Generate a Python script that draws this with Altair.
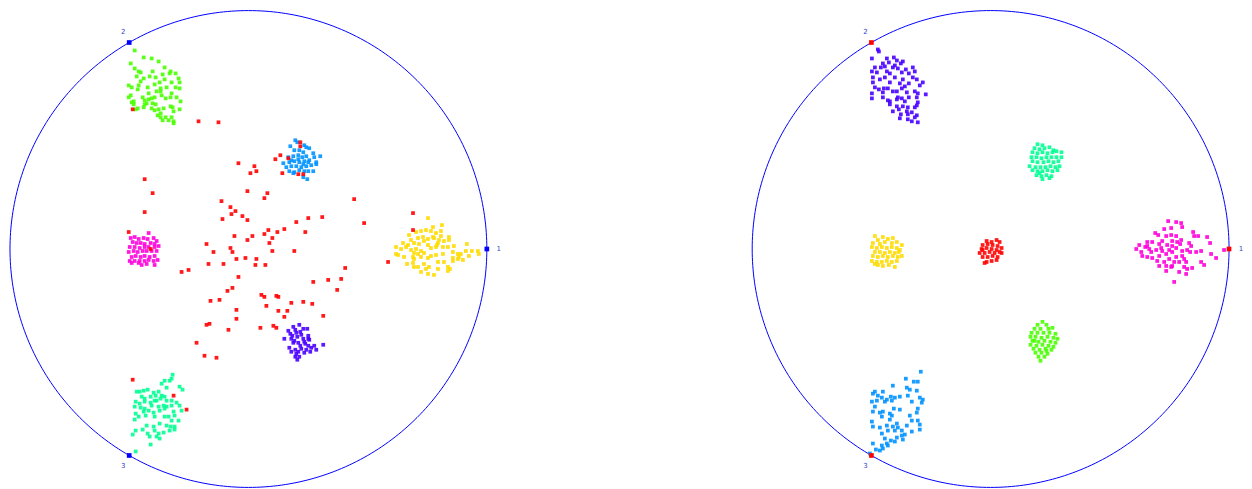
import altair as alt
import numpy as np
import pandas as pd

# RadViz coordinates, expressed in units of 1/239 of the unit-circle radius
R = 239.0

# ---------------- left panel ----------------
L_GREEN = [(-114,199),(-105,192),(-97,191),(-90,188),(-118,186),(-114,181),(-110,178),(-108,177),
(-84,182),(-78,178),(-79,176),(-112,173),(-105,171),(-99,173),(-93,172),(-86,175),(-73,176),(-70,171),
(-69,167),(-77,167),(-120,164),(-117,162),(-110,164),(-111,160),(-101,162),(-94,165),(-89,167),(-82,162),
(-73,162),(-88,161),(-88,158),(-87,154),(-77,156),(-69,161),(-120,152),(-118,154),(-106,152),(-104,149),
(-100,150),(-97,151),(-94,152),(-83,151),(-78,152),(-72,152),(-68,148),(-115,148),(-115,145),(-104,145),
(-102,146),(-96,146),(-93,145),(-111,141),(-105,142),(-97,141),(-90,140),(-85,141),(-78,143),(-76,142),
(-69,140),(-75,138),(-88,136),(-94,139),(-91,134),(-88,132),(-83,132),(-77,132),(-86,129),(-80,129),
(-75,128),(-75,126),(-113,140),(-117,147),(-100,156),(-92,158),(-84,170),(-96,178),(-108,168)]

L_BLUE = [(47,109),(49,107),(42,103),(56,104),(58,102),(61,101),(51,99),(46,99),(55,97),(65,96),(72,93),
(40,92),(45,93),(50,94),(54,92),(58,93),(66,92),(35,86),(41,87),(46,88),(51,87),(56,88),(61,89),(68,87),
(38,82),(43,83),(48,83),(53,82),(58,83),(63,84),(68,85),(41,78),(46,77),(51,79),(56,78),(60,78),(65,78),
(45,76),(55,72),(59,70),(50,90),(43,89),(60,87),(55,85)]

L_PINK = [(-100,16),(-118,11),(-114,12),(-110,10),(-105,11),(-101,10),(-95,11),(-92,8),(-116,7),(-112,6),
(-108,6),(-104,5),(-98,6),(-94,5),(-90,3),(-119,2),(-114,2),(-109,1),(-104,2),(-100,2),(-94,2),(-120,-3),
(-115,-2),(-111,-3),(-106,-2),(-102,-2),(-97,-2),(-92,-2),(-117,-8),(-113,-7),(-108,-8),(-104,-7),(-99,-8),
(-94,-7),(-119,-12),(-114,-12),(-109,-12),(-104,-12),(-100,-11),(-95,-12),(-91,-11),(-107,-16),(-102,-15),
(-94,-16),(-110,-14),(-117,-14)]

L_YELLOW = [(180,31),(194,24),(185,22),(193,18),(161,14),(168,17),(173,18),(178,19),(183,18),(188,16),
(193,13),(201,12),(201,9),(163,9),(170,11),(175,12),(180,10),(186,11),(191,9),(196,8),(155,6),(160,4),
(166,6),(171,5),(180,4),(190,6),(195,2),(200,2),(206,3),(219,5),(148,2),(153,0),(158,2),(163,-1),(168,0),
(173,-2),(183,1),(188,2),(205,-3),(210,-5),(218,-2),(224,-2),(230,-2),(231,-5),(150,-6),(156,-8),(165,-8),
(170,-5),(176,-4),(183,-7),(188,-6),(195,-5),(205,-9),(211,-8),(221,-7),(148,-5),(166,-10),(173,-8),
(180,-9),(159,-15),(165,-14),(176,-15),(190,-13),(196,-13),(205,-12),(210,-10),(215,-11),(166,-18),
(170,-18),(178,-20),(181,-18),(190,-20),(200,-18),(200,-22),(202,-20),(173,-23),(180,-25),(186,-26),
(213,-5),(189,4),(176,8),(185,12),(166,-4)]

L_TEAL = [(-76,-126),(-77,-130),(-84,-132),(-79,-132),(-87,-135),(-82,-139),(-69,-138),(-66,-141),
(-112,-143),(-105,-142),(-101,-141),(-95,-144),(-90,-143),(-87,-147),(-84,-148),(-107,-148),(-104,-150),
(-98,-148),(-93,-147),(-113,-153),(-109,-155),(-104,-153),(-98,-154),(-92,-152),(-88,-150),(-82,-152),
(-77,-152),(-72,-154),(-69,-157),(-114,-158),(-108,-159),(-97,-157),(-90,-158),(-85,-157),(-82,-158),
(-77,-157),(-67,-162),(-113,-165),(-105,-163),(-100,-162),(-95,-164),(-89,-162),(-84,-160),(-75,-163),
(-74,-167),(-110,-168),(-103,-167),(-94,-168),(-84,-168),(-80,-168),(-77,-172),(-70,-172),(-114,-171),
(-102,-177),(-95,-178),(-89,-175),(-82,-177),(-78,-178),(-74,-178),(-116,-186),(-113,-182),(-106,-181),
(-101,-185),(-94,-182),(-90,-185),(-85,-184),(-79,-182),(-74,-181),(-99,-188),(-92,-188),(-89,-190),
(-98,-196),(-113,-203),(-109,-143),(-94,-152),(-104,-160)]

L_PURPLE = [(51,-76),(45,-78),(40,-82),(47,-81),(55,-80),(59,-80),(42,-85),(48,-84),(53,-86),(60,-87),
(36,-90),(43,-90),(49,-88),(55,-90),(61,-91),(45,-94),(50,-94),(56,-93),(60,-97),(66,-97),(75,-96),
(41,-99),(47,-101),(53,-100),(58,-101),(63,-99),(68,-101),(43,-103),(50,-103),(56,-104),(62,-103),
(47,-108),(51,-108),(49,-111),(60,-90),(46,-92),(52,-83),(44,-87),(57,-95),(52,-97),(48,-105)]

L_RED = [(-116,140),(-50,128),(-30,127),
(52,107),(52,103),(32,94),(27,90),(40,91),(34,76),(50,75),(55,75),
(-10,86),(6,83),(2,76),(8,78),(-1,58),(19,56),(16,51),(-27,48),(-18,42),(-13,38),(-17,35),(-6,33),(-1,29),
(-26,30),(106,50),(116,26),(60,31),(74,32),(48,27),(36,20),(20,19),(29,17),(16,15),(57,17),(24,11),(21,6),
(-14,13),(4,13),(-1,9),(-42,5),(-18,1),
(-35,-3),(-16,-3),(24,-2),(46,-2),(-40,-15),(-25,-15),(-12,-10),(-3,-9),(8,-10),(7,-16),(17,-16),
(-67,-23),(-60,-21),(-10,-28),(-21,-42),(-16,-39),(97,-19),(80,-31),(93,-30),(65,-33),(89,-41),
(-38,-52),(-29,-51),(13,-46),(16,-48),(28,-47),(30,-48),(18,-57),(43,-54),(55,-53),(64,-55),(30,-62),
(39,-62),(36,-68),(75,-67),(-12,-61),(-12,-70),(-42,-76),(-39,-75),(-20,-81),(12,-79),(25,-77),(28,-79),
(-52,-94),(-44,-107),(-32,-109),
(-104,70),(-96,56),(-104,37),(-120,17),(-98,0),
(165,36),(165,19),(140,-13),
(-116,-131),(-75,-147),(-62,-161)]

# ---------------- right panel ----------------
R_PURPLE = [(-113,200),(-112,198),(-119,191),(-104,191),(-97,192),(-94,189),(-88,188),(-108,186),(-102,187),
(-96,184),(-90,186),(-116,182),(-110,182),(-106,183),(-98,182),(-93,181),(-85,180),(-78,182),(-76,178),
(-119,178),(-114,177),(-104,178),(-101,176),(-89,177),(-82,176),(-78,172),(-118,172),(-111,170),(-106,172),
(-96,172),(-88,170),(-74,170),(-118,167),(-101,167),(-91,166),(-82,166),(-68,167),(-116,162),(-112,160),
(-107,161),(-103,161),(-94,158),(-89,161),(-86,163),(-71,164),(-119,156),(-108,157),(-98,158),(-84,157),
(-76,158),(-73,156),(-65,155),(-119,151),(-108,152),(-93,152),(-89,151),(-82,152),(-74,152),(-101,148),
(-94,150),(-86,148),(-73,147),(-101,145),(-94,143),(-83,142),(-76,142),(-98,138),(-92,140),(-84,138),
(-74,144),(-90,135),(-83,135),(-79,137),(-74,134),(-91,131),(-83,130),(-79,128),(-73,127),(-76,132),
(-103,149),(-88,143)]

R_TEAL = [(47,105),(52,104),(44,101),(49,100),(54,101),(59,102),(63,99),(42,97),(47,96),(52,97),(57,96),
(62,97),(66,98),(71,97),(41,92),(46,92),(51,91),(56,92),(61,92),(66,92),(71,92),(42,88),(47,87),(53,87),
(58,88),(63,87),(68,88),(39,83),(45,82),(50,82),(55,82),(60,83),(65,82),(69,83),(42,79),(47,78),(52,78),
(57,79),(62,78),(67,79),(46,74),(51,73),(56,74),(61,73),(52,70),(59,71),(49,76)]

R_RED = [(-4,8),(1,7),(6,9),(9,7),(-8,4),(-3,5),(2,4),(7,3),(-9,0),(-4,1),(1,0),(6,-1),(11,1),(-11,-4),
(-6,-4),(-1,-3),(4,-4),(9,-3),(-8,-8),(-3,-8),(2,-7),(7,-8),(-4,-13),(1,-12),(6,-11),(-6,-14),(11,-4),(-8,-1)]

R_YELLOW = [(-116,13),(-108,12),(-113,9),(-103,10),(-98,11),(-118,6),(-111,5),(-106,7),(-99,6),(-94,7),
(-89,4),(-119,2),(-114,1),(-109,2),(-104,1),(-99,2),(-94,1),(-91,-1),(-116,-3),(-111,-3),(-106,-4),
(-101,-3),(-96,-4),(-92,-3),(-118,-7),(-113,-8),(-108,-7),(-103,-8),(-98,-7),(-93,-8),(-119,-12),
(-114,-13),(-109,-13),(-104,-12),(-99,-13),(-94,-12),(-113,-16),(-108,-17),(-102,-16),(-96,-18),
(-116,-15),(-89,-7)]

R_GREEN = [(52,-73),(47,-76),(56,-76),(44,-80),(50,-80),(58,-80),(62,-79),(41,-84),(47,-84),(53,-84),
(59,-84),(65,-85),(40,-88),(45,-88),(51,-89),(57,-88),(63,-89),(67,-90),(42,-92),(48,-93),(54,-92),
(60,-93),(65,-94),(40,-96),(46,-97),(52,-96),(58,-97),(63,-98),(43,-100),(49,-101),(55,-100),(61,-101),
(45,-104),(51,-104),(57,-105),(48,-108),(54,-108),(50,-112),(44,-92),(56,-102)]

R_PINK = [(178,28),(186,27),(191,26),(192,22),(174,20),(181,21),(165,16),(168,14),(176,13),(181,14),
(186,13),(203,17),(204,13),(208,13),(191,9),(172,8),(182,8),(187,7),(217,12),(157,7),(162,7),(169,5),
(177,4),(182,3),(190,5),(199,6),(201,3),(220,6),(149,4),(155,2),(159,0),(166,-1),(172,-2),(179,-1),
(186,1),(192,-2),(197,-1),(146,0),(151,-3),(161,-3),(176,-5),(182,-3),(192,-7),(200,-3),(211,-2),
(221,-5),(152,-7),(157,-8),(162,-9),(169,-7),(179,-10),(186,-8),(194,-10),(226,-9),(167,-12),(174,-13),
(184,-13),(189,-13),(196,-13),(211,-13),(214,-16),(169,-17),(176,-17),(181,-18),(194,-18),(197,-20),
(202,-19),(176,-22),(189,-23),(196,-25),(184,-33),(234,-1),(157,3),(182,-17),(171,1),(206,-3)]

R_BLUE = [(-70,-123),(-85,-130),(-77,-133),(-73,-133),(-98,-137),(-84,-139),(-81,-141),(-74,-142),
(-116,-143),(-108,-143),(-118,-145),(-113,-147),(-109,-149),(-104,-151),(-100,-148),(-96,-149),(-91,-148),
(-83,-147),(-71,-149),(-68,-151),(-119,-153),(-114,-152),(-106,-153),(-99,-152),(-79,-153),(-69,-154),
(-116,-158),(-97,-160),(-91,-161),(-73,-160),(-118,-163),(-111,-164),(-108,-163),(-101,-165),(-109,-168),
(-99,-167),(-81,-167),(-74,-164),(-79,-172),(-73,-172),(-119,-173),(-101,-171),(-94,-175),(-118,-178),
(-111,-179),(-104,-177),(-98,-178),(-93,-179),(-84,-177),(-71,-176),(-103,-182),(-96,-182),(-89,-182),
(-79,-183),(-71,-181),(-109,-185),(-89,-187),(-86,-186),(-106,-190),(-100,-192),(-96,-193),(-88,-191),
(-104,-195),(-109,-197),(-118,-195),(-115,-201),(-111,-202),(-108,-200),(-103,-197),(-121,-205),(-94,-189)]

CLASSES = ["c1", "c2", "c3", "c4", "c5", "c6", "c7"]
COLORS = ["#FF0000", "#FFDB00", "#49FF00", "#00FF92", "#0092FF", "#4900FF", "#FF00DB"]
ANCHOR_LABELS = ["1", "2", "3"]
ANCHOR_ANGLES = [0, 120, 240]


def frame(pairs, cls):
    a = np.array(pairs, dtype=float) / R
    return pd.DataFrame({"x": a[:, 0], "y": a[:, 1], "cls": cls})


left_df = pd.concat([
    frame(L_GREEN, "c3"), frame(L_BLUE, "c5"), frame(L_PINK, "c7"), frame(L_YELLOW, "c2"),
    frame(L_TEAL, "c4"), frame(L_PURPLE, "c6"), frame(L_RED, "c1")], ignore_index=True)
right_df = pd.concat([
    frame(R_PURPLE, "c6"), frame(R_TEAL, "c4"), frame(R_YELLOW, "c2"), frame(R_GREEN, "c3"),
    frame(R_PINK, "c7"), frame(R_BLUE, "c5"), frame(R_RED, "c1")], ignore_index=True)

t = np.deg2rad(np.arange(0, 361, 1))
circle_df = pd.DataFrame({"x": np.cos(t), "y": np.sin(t), "i": np.arange(len(t))})
ang = np.deg2rad(ANCHOR_ANGLES)
anchor_df = pd.DataFrame({"x": np.cos(ang), "y": np.sin(ang), "lab": ANCHOR_LABELS,
                          "lx": 1.05 * np.cos(ang), "ly": 1.05 * np.sin(ang)})

xs = alt.Scale(domain=[-1, 1], nice=False, zero=False)
ys = alt.Scale(domain=[-1, 1], nice=False, zero=False)


def panel(df, anchor_color):
    circle = alt.Chart(circle_df).mark_line(color="#0000ff", strokeWidth=1).encode(
        x=alt.X("x:Q", scale=xs, axis=None),
        y=alt.Y("y:Q", scale=ys, axis=None),
        order="i:Q")
    pts = alt.Chart(df).mark_square(size=14, opacity=0.9).encode(
        x=alt.X("x:Q", scale=xs, axis=None),
        y=alt.Y("y:Q", scale=ys, axis=None),
        color=alt.Color("cls:N", scale=alt.Scale(domain=CLASSES, range=COLORS), legend=None))
    anchors = alt.Chart(anchor_df).mark_square(size=22, color=anchor_color, opacity=1).encode(
        x=alt.X("x:Q", scale=xs, axis=None),
        y=alt.Y("y:Q", scale=ys, axis=None))
    labels = alt.Chart(anchor_df).mark_text(fontSize=7, color="#3344cc", font="DejaVu Sans").encode(
        x=alt.X("lx:Q", scale=xs, axis=None),
        y=alt.Y("ly:Q", scale=ys, axis=None),
        text="lab:N")
    return alt.layer(circle, pts, anchors, labels).properties(width=478, height=478)


chart = alt.hconcat(panel(left_df, "#0000ff"), panel(right_df, "#ff0000"),
                    spacing=266, bounds="flush").properties(padding=0).configure_view(stroke=None)

chart.save("out.html", embed_options={"renderer": "svg", "actions": False})
